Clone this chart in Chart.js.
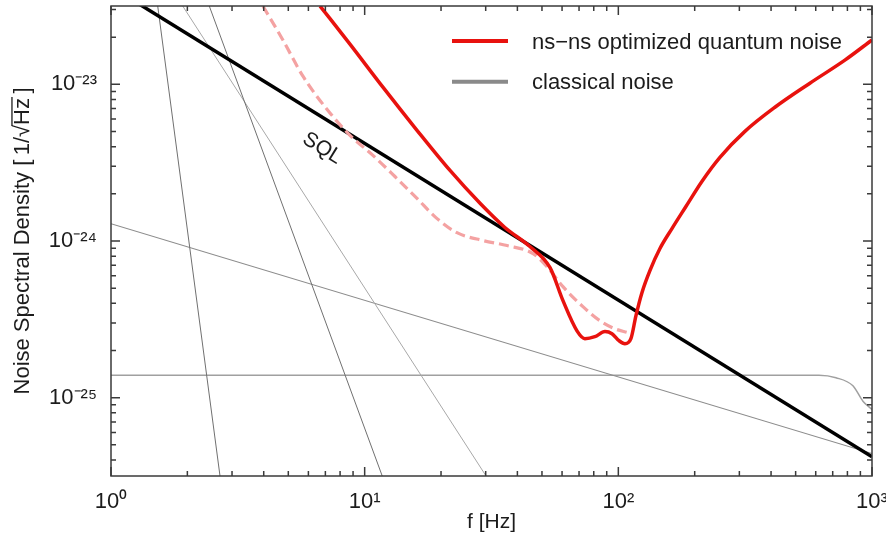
<!DOCTYPE html>
<html><head><meta charset="utf-8">
<script src="https://cdn.jsdelivr.net/npm/chart.js@4/dist/chart.umd.min.js"></script>
<style>html,body{margin:0;padding:0;background:#fff;}#wrap{width:886px;height:543px;}</style>
</head><body><div id="wrap"><canvas id="c" width="886" height="543"></canvas></div>
<script>
// ---- data ----
const quantumFreq  = [6.67, 8.75, 11.8, 16.08, 21.7, 28.5, 35.7, 44.8, 53.8, 60.5, 68.7, 73.8, 80.8, 88.6, 94.4, 100.6, 106.2, 112.1, 117.3, 123.9, 133.2, 145.9, 162.7, 184.7, 213.5, 251.5, 315.5, 414.3, 569.1, 781.9, 1000];
const quantumNoise = [3.16e-23, 1.806e-23, 9.59e-24, 5.09e-24, 2.82e-24, 1.74e-24, 1.22e-24, 9.22e-25, 6.76e-25, 4.16e-25, 2.67e-25, 2.38e-25, 2.45e-25, 2.64e-25, 2.56e-25, 2.31e-25, 2.21e-25, 2.38e-25, 3.33e-25, 4.68e-25, 6.47e-25, 8.95e-25, 1.20e-24, 1.66e-24, 2.40e-24, 3.42e-24, 5.01e-24, 7.14e-24, 1.017e-23, 1.427e-23, 1.92e-23];
const dashedFreq   = [3.97, 4.76, 5.71, 7.10, 8.75, 10.78, 13.16, 16.08, 19.10, 23.11, 29.3, 36.4, 46.1, 52.3, 60.5, 72.5, 84.6, 97.0, 109.1];
const dashedNoise  = [3.16e-23, 1.92e-23, 1.127e-23, 6.93e-24, 4.73e-24, 3.52e-24, 2.58e-24, 1.87e-24, 1.41e-24, 1.13e-24, 1.007e-24, 9.35e-25, 8.31e-25, 6.86e-25, 5.11e-25, 3.81e-25, 3.10e-25, 2.75e-25, 2.60e-25];
const sqlFreq      = [1, 1000];
const sqlNoise     = [4.2e-23, 4.2e-26];
const steepAFreq   = [1.528, 2.69];
const steepANoise  = [3.162e-23, 3.162e-26];
const steepBFreq   = [2.44, 11.73];
const steepBNoise  = [3.162e-23, 3.162e-26];
const steepCFreq   = [1.917, 30.1];
const steepCNoise  = [3.162e-23, 3.162e-26];
const slopeFreq    = [1, 1000];
const slopeNoise   = [1.29e-24, 4.4e-26];
const flatFreq     = [1, 300, 618, 721, 841, 921, 1000];
const flatNoise    = [1.39e-25, 1.39e-25, 1.39e-25, 1.34e-25, 1.19e-25, 9.5e-26, 8.4e-26];
const xTickValues  = [1, 10, 100, 1000];
const xTickLabels  = ['10\u2070', '10\u00B9', '10\u00B2', '10\u00B3'];
const yTickValues  = [1e-25, 1e-24, 1e-23];
const yTickLabels  = ['10\u207B\u00B2\u2075', '10\u207B\u00B2\u2074', '10\u207B\u00B2\u00B3'];
const legendLabels = ['ns\u2212ns optimized quantum noise', 'classical noise'];
const sqlLabelText = 'SQL';
const sqlLabelAt   = { f: 6.8, v: 3.9e-24 };

// ---- styling ----
const FONT = "'Liberation Sans', Arial, Helvetica, sans-serif";
const TEXT = '#1c1c1c';
const RED = 'rgb(232,18,14)';
const PINK = 'rgb(244,162,162)';
const LEGEND_GREY = '#8a8a8a';

const pts = (fs, vs) => fs.map((f, i) => ({ x: f, y: vs[i] }));
const base = { pointRadius: 0, fill: false, clip: 0 };

const datasets = [
  { ...base, label: legendLabels[0], data: pts(quantumFreq, quantumNoise), borderColor: RED, borderWidth: 3.5, cubicInterpolationMode: 'monotone' },
  { ...base, label: 'dashed', data: pts(dashedFreq, dashedNoise), borderColor: PINK, borderWidth: 3.2, borderDash: [10, 5], cubicInterpolationMode: 'monotone' },
  { ...base, label: 'SQL', data: pts(sqlFreq, sqlNoise), borderColor: '#000', borderWidth: 3.5 },
  { ...base, label: 'a', data: pts(steepAFreq, steepANoise), borderColor: '#707070', borderWidth: 1 },
  { ...base, label: 'b', data: pts(steepBFreq, steepBNoise), borderColor: '#707070', borderWidth: 1 },
  { ...base, label: 'c', data: pts(steepCFreq, steepCNoise), borderColor: '#a8a8a8', borderWidth: 1 },
  { ...base, label: 'd', data: pts(slopeFreq, slopeNoise), borderColor: '#8c8c8c', borderWidth: 1.1 },
  { ...base, label: legendLabels[1], data: pts(flatFreq, flatNoise), borderColor: '#a0a0a0', borderWidth: 1.5, cubicInterpolationMode: 'monotone' }
];

function minorValues(min, max) {
  const out = [];
  for (let e = Math.floor(Math.log10(min)) ; e <= Math.ceil(Math.log10(max)); e++) {
    for (let k = 1; k <= 9; k++) {
      const v = k * Math.pow(10, e);
      if (v >= min * (1 - 1e-9) && v <= max * (1 + 1e-9)) out.push({ v, major: k === 1 });
    }
  }
  return out;
}

const framePlugin = {
  id: 'frame',
  afterDraw(chart) {
    const c = chart.ctx, a = chart.chartArea, xs = chart.scales.x, ys = chart.scales.y;
    c.save();
    c.strokeStyle = '#3a3a3a'; c.lineWidth = 1.5; c.setLineDash([]);
    c.strokeRect(a.left, a.top, a.right - a.left, a.bottom - a.top);
    c.beginPath();
    minorValues(xs.min, xs.max).forEach(t => {
      const px = xs.getPixelForValue(t.v), L = t.major ? 9 : 5;
      c.moveTo(px, a.bottom); c.lineTo(px, a.bottom - L);
      c.moveTo(px, a.top); c.lineTo(px, a.top + L);
    });
    minorValues(ys.min, ys.max).forEach(t => {
      const py = ys.getPixelForValue(t.v), L = t.major ? 9 : 5;
      c.moveTo(a.left, py); c.lineTo(a.left + L, py);
      c.moveTo(a.right, py); c.lineTo(a.right - L, py);
    });
    c.stroke();
    c.restore();
  }
};

const legendPlugin = {
  id: 'customLegend',
  afterDraw(chart) {
    const c = chart.ctx;
    const colors = [RED, LEGEND_GREY];
    c.save();
    legendLabels.forEach((lab, i) => {
      const y = 41 + i * 40.7;
      c.strokeStyle = colors[i]; c.lineWidth = 4; c.setLineDash([]);
      c.beginPath(); c.moveTo(452, y); c.lineTo(508, y); c.stroke();
      c.fillStyle = TEXT; c.font = '22px ' + FONT; c.textAlign = 'left'; c.textBaseline = 'alphabetic';
      c.fillText(lab, 532, y + 7.5);
    });
    c.restore();
  }
};

const sqlLabelPlugin = {
  id: 'sqlLabel',
  afterDraw(chart) {
    const c = chart.ctx, xs = chart.scales.x, ys = chart.scales.y;
    const px = xs.getPixelForValue(sqlLabelAt.f), py = ys.getPixelForValue(sqlLabelAt.v);
    const ang = Math.atan2(ys.getPixelForValue(sqlNoise[1]) - ys.getPixelForValue(sqlNoise[0]),
                           xs.getPixelForValue(sqlFreq[1]) - xs.getPixelForValue(sqlFreq[0]));
    c.save();
    c.translate(px, py); c.rotate(ang);
    c.fillStyle = TEXT; c.font = '21px ' + FONT; c.textAlign = 'center'; c.textBaseline = 'middle';
    c.fillText(sqlLabelText, 0, 0);
    c.restore();
  }
};

const Y_TITLE = 'Noise Spectral Density [\u20091/\u221AHz\u2009]';
const Y_TITLE_PREFIX = 'Noise Spectral Density [\u20091/\u221A';
const overlinePlugin = {
  id: 'overline',
  afterDraw(chart) {
    const c = chart.ctx, ys = chart.scales.y;
    const opt = ys.options.title;
    const size = opt.font.size, lh = size * 1.2;
    const tx = ys.left + lh / 2 + opt.padding.top;
    const ty = (ys.top + ys.bottom) / 2;
    c.save();
    c.font = size + 'px ' + FONT; c.textBaseline = 'middle';
    const W = c.measureText(Y_TITLE).width;
    const P = c.measureText(Y_TITLE_PREFIX).width;
    const H = c.measureText('Hz').width;
    const asc = c.measureText('\u221A').actualBoundingBoxAscent;
    c.translate(tx, ty); c.rotate(-Math.PI / 2);
    c.strokeStyle = TEXT; c.lineWidth = 1.3;
    c.beginPath(); c.moveTo(-W / 2 + P - 1, -asc + 0.7); c.lineTo(-W / 2 + P + H + 1, -asc + 0.7); c.stroke();
    c.restore();
  }
};

const zeroPad = s => { s.paddingLeft = 0; s.paddingRight = 0; s.paddingTop = 0; s.paddingBottom = 0; };

new Chart(document.getElementById('c'), {
  type: 'line',
  data: { datasets },
  options: {
    responsive: false, animation: false, devicePixelRatio: 1,
    layout: { padding: { top: 6, right: 14, left: 0, bottom: 0 } },
    plugins: { legend: { display: false }, tooltip: { enabled: false } },
    scales: {
      x: {
        type: 'logarithmic', min: 1, max: 1000,
        afterBuildTicks: s => { s.ticks = xTickValues.map(v => ({ value: v })); },
        afterFit: s => { s.height = 67; zeroPad(s); },
        grid: { display: false, drawTicks: false }, border: { display: false },
        ticks: { callback: (v, i) => xTickLabels[i], font: { family: FONT, size: 22 }, color: TEXT, padding: 13, maxRotation: 0, autoSkip: false },
        title: { display: true, text: 'f [Hz]', font: { family: FONT, size: 21 }, color: TEXT, padding: { top: 0, bottom: 8 } }
      },
      y: {
        type: 'logarithmic', min: Math.pow(10, -25.5), max: Math.pow(10, -22.5),
        afterBuildTicks: s => { s.ticks = yTickValues.map(v => ({ value: v })); },
        afterFit: s => { s.width = 111; zeroPad(s); },
        grid: { display: false, drawTicks: false }, border: { display: false },
        ticks: { callback: (v, i) => yTickLabels[i], font: { family: FONT, size: 22 }, color: TEXT, padding: 14, autoSkip: false },
        title: { display: true, text: Y_TITLE, font: { family: FONT, size: 22 }, color: TEXT, padding: { top: 10, bottom: 0 } }
      }
    }
  },
  plugins: [framePlugin, legendPlugin, sqlLabelPlugin, overlinePlugin]
});
</script>
</body></html>
